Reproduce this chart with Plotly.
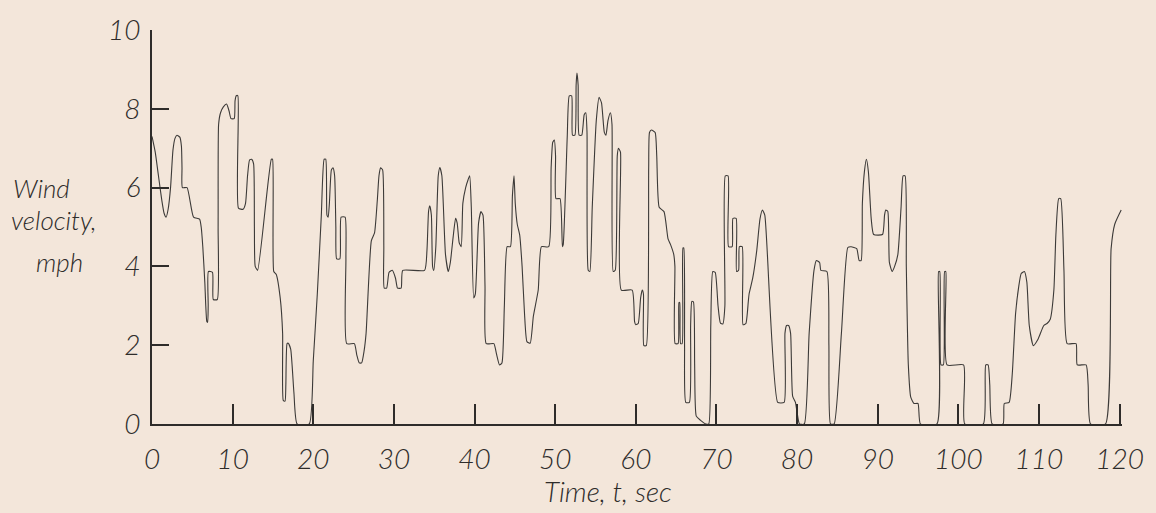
import plotly.graph_objects as go

# time (s) and wind velocity (mph)
t = [0.0, 0.4, 0.8, 1.2, 1.5, 1.75, 2.0, 2.3, 2.6, 2.85, 3.1, 3.45, 3.65, 3.72, 3.77, 4.35, 5.15, 5.9, 6.1, 6.3,
     6.55, 6.8, 6.9, 6.97, 7.0, 7.5, 7.6, 8.1, 8.2, 8.26, 8.5, 8.85, 9.25, 9.55, 9.8, 10.2, 10.3, 10.45, 10.65, 10.72,
     11.3, 11.6, 11.85, 12.1, 12.35, 12.6, 12.7, 12.8, 13.1, 14.8, 14.95, 15.1, 15.4, 15.9, 16.2, 16.28, 16.5, 16.6, 16.75, 16.9,
     17.2, 17.6, 18.0, 19.5, 20.0, 20.5, 21.0, 21.35, 21.55, 21.7, 21.85, 22.0, 22.25, 22.45, 22.65, 22.8, 22.9, 23.3, 23.45, 23.95,
     24.05, 24.15, 25.1, 25.4, 25.7, 26.0, 26.3, 26.55, 27.2, 27.6, 27.95, 28.15, 28.35, 28.6, 28.75, 28.8, 29.1, 29.4, 29.8, 30.2,
     30.45, 30.9, 31.1, 33.8, 34.1, 34.3, 34.45, 34.65, 34.8, 34.95, 35.2, 35.5, 35.7, 35.95, 36.4, 36.75, 37.0, 37.35, 37.65, 37.85,
     38.1, 38.35, 38.55, 38.9, 39.2, 39.4, 39.6, 39.9, 40.1, 40.5, 40.8, 41.05, 41.3, 41.45, 42.4, 42.7, 43.1, 43.4, 43.7, 44.05,
     44.45, 44.7, 44.9, 45.05, 45.3, 45.6, 45.9, 46.2, 46.5, 46.9, 47.3, 47.9, 48.3, 49.2, 49.5, 49.7, 49.9, 50.05, 50.1, 50.6,
     50.9, 51.0, 51.5, 51.75, 52.05, 52.15, 52.45, 52.6, 52.7, 52.85, 52.97, 53.3, 53.6, 53.8, 53.95, 54.1, 54.3, 54.6, 55.1, 55.45,
     55.75, 56.1, 56.3, 56.55, 56.85, 57.05, 57.2, 57.45, 57.7, 57.85, 58.1, 58.2, 59.55, 59.85, 60.0, 60.3, 60.6, 60.8, 60.95, 61.0,
     61.3, 61.6, 61.7, 61.95, 62.4, 62.6, 62.9, 63.5, 64.0, 64.3, 64.7, 64.85, 64.88, 65.25, 65.35, 65.45, 65.55, 65.75, 65.85, 65.95,
     66.05, 66.2, 66.65, 66.8, 66.95, 67.15, 67.3, 67.5, 68.0, 68.7, 69.05, 69.3, 69.55, 69.85, 70.2, 70.5, 70.8, 71.05, 71.1, 71.45,
     71.5, 71.95, 72.05, 72.45, 72.5, 72.75, 72.85, 73.2, 73.3, 73.65, 73.95, 74.05, 74.5, 75.0, 75.4, 75.7, 76.0, 77.6, 78.4, 78.5,
     78.7, 78.95, 79.2, 79.45, 79.8, 80.0, 80.3, 80.9, 81.5, 82.1, 82.4, 82.8, 82.95, 83.7, 83.95, 84.15, 84.6, 85.5, 86.3, 86.7,
     87.4, 87.7, 87.95, 88.1, 88.35, 88.6, 88.85, 89.2, 89.5, 90.6, 90.85, 91.0, 91.25, 91.45, 91.8, 92.1, 92.5, 92.9, 93.15, 93.4,
     93.55, 93.8, 94.1, 94.5, 95.0, 95.3, 97.35, 97.55, 97.7, 97.85, 98.15, 98.3, 98.45, 98.6, 100.65, 100.8, 103.1, 103.4, 103.7, 103.9,
     104.2, 105.55, 105.7, 106.3, 106.7, 107.1, 107.5, 107.8, 108.2, 108.5, 108.8, 109.3, 109.9, 110.6, 111.0, 111.4, 111.85, 112.1, 112.45, 112.7,
     113.1, 113.5, 114.6, 114.75, 115.85, 116.1, 116.4, 118.25, 118.95, 119.4, 120.2]

v = [7.3, 6.9, 6.3, 5.7, 5.35, 5.25, 5.45, 6.0, 6.95, 7.25, 7.33, 7.28, 7.05, 6.5, 6.0, 6.0, 5.25, 5.2, 5.0, 4.5,
     3.6, 2.6, 2.58, 3.0, 3.87, 3.85, 3.16, 3.16, 5.0, 7.6, 7.9, 8.05, 8.12, 7.95, 7.75, 7.75, 8.2, 8.33, 8.33, 5.48,
     5.45, 5.6, 6.3, 6.7, 6.72, 6.6, 5.0, 4.0, 3.9, 6.72, 6.72, 3.87, 3.8, 3.2, 2.3, 0.6, 0.58, 1.0, 2.04, 2.05,
     1.9, 0.8, 0.0, 0.0, 1.6, 3.3, 5.3, 6.72, 6.72, 5.3, 5.25, 5.6, 6.45, 6.5, 6.3, 5.0, 4.19, 4.19, 5.25, 5.25,
     4.2, 2.04, 2.04, 1.75, 1.55, 1.55, 1.85, 2.3, 4.65, 4.85, 5.7, 6.3, 6.5, 6.45, 4.5, 3.45, 3.45, 3.85, 3.9, 3.7,
     3.45, 3.45, 3.9, 3.9, 4.4, 5.4, 5.54, 5.3, 4.0, 3.9, 4.5, 6.3, 6.51, 6.3, 4.3, 3.87, 4.1, 4.75, 5.22, 5.1,
     4.6, 4.5, 5.6, 6.0, 6.2, 6.3, 5.5, 3.2, 3.3, 5.1, 5.39, 5.3, 3.5, 2.04, 2.04, 1.8, 1.5, 1.55, 3.0, 4.5,
     4.5, 5.8, 6.3, 5.6, 5.07, 4.8, 4.0, 2.8, 2.09, 2.05, 2.74, 3.4, 4.5, 4.5, 6.5, 7.15, 7.21, 6.8, 5.72, 5.72,
     4.5, 4.55, 7.3, 8.33, 8.33, 7.33, 7.33, 8.6, 8.91, 8.6, 7.33, 7.33, 7.85, 7.9, 7.4, 3.9, 3.87, 5.5, 7.7, 8.29,
     8.15, 7.4, 7.33, 7.7, 7.9, 7.6, 3.87, 3.9, 6.8, 7.0, 6.9, 3.4, 3.4, 2.6, 2.52, 2.55, 3.2, 3.4, 3.3, 1.99,
     1.99, 6.5, 7.4, 7.46, 7.4, 6.8, 5.5, 5.39, 4.7, 4.56, 4.31, 4.0, 2.04, 2.04, 3.08, 3.08, 2.04, 2.04, 4.47, 4.47,
     2.0, 0.55, 0.55, 2.5, 3.11, 3.1, 1.5, 0.2, 0.1, 0.0, 0.0, 2.5, 3.87, 3.85, 3.0, 2.56, 2.54, 3.0, 6.3, 6.3,
     4.5, 4.5, 5.22, 5.22, 3.87, 3.9, 4.5, 4.5, 2.52, 2.55, 3.1, 3.3, 3.7, 4.4, 5.2, 5.43, 5.3, 0.55, 0.55, 2.3,
     2.5, 2.5, 2.3, 0.71, 0.55, 0.3, 0.0, 0.0, 2.3, 3.9, 4.15, 4.1, 3.9, 3.87, 2.0, 0.0, 0.0, 2.3, 4.48, 4.5,
     4.45, 4.15, 4.15, 5.6, 6.4, 6.72, 6.4, 5.2, 4.81, 4.81, 5.3, 5.43, 5.4, 4.1, 3.87, 4.0, 4.3, 5.5, 6.3, 6.3,
     4.0, 1.5, 0.68, 0.52, 0.52, 0.0, 0.0, 3.87, 3.87, 1.5, 1.5, 3.87, 3.87, 1.5, 1.5, 0.0, 0.0, 1.5, 1.5, 1.0,
     0.0, 0.0, 0.52, 0.55, 1.3, 2.8, 3.5, 3.82, 3.87, 3.6, 2.5, 1.99, 2.16, 2.5, 2.55, 2.66, 3.4, 4.8, 5.72, 5.72,
     3.9, 2.04, 2.04, 1.5, 1.5, 1.0, 0.0, 0.0, 4.45, 5.07, 5.43]

x_ticks = [0, 10, 20, 30, 40, 50, 60, 70, 80, 90, 100, 110, 120]
x_labels = ["0", "10", "20", "30", "40", "50", "60", "70", "80", "90", "100", "110", "120"]
y_ticks = [0, 2, 4, 6, 8, 10]
y_labels = ["0", "2", "4", "6", "8", "10"]

BG = "#f3e6da"
INK = "#2e2c2a"
FONT = "Lato, 'Open Sans', 'DejaVu Sans', sans-serif"

W, H = 1156, 513
ML, MR, MT, MB = 152, 26, 21, 89
pw = W - ML - MR
ph = H - MT - MB

fig = go.Figure()
fig.add_trace(go.Scatter(x=t, y=v, mode="lines",
                         line=dict(color="#3c3a38", width=1.1, shape="spline", smoothing=0.5),
                         hoverinfo="skip", showlegend=False))

tickfont = dict(family=FONT, size=28, color=INK, style="italic", weight=300)

fig.update_layout(
    width=W, height=H,
    margin=dict(l=ML, r=MR, t=MT, b=MB),
    paper_bgcolor=BG, plot_bgcolor=BG,
    font=dict(family=FONT, color=INK),
    xaxis=dict(range=[0, 120.3], tickvals=x_ticks, ticktext=x_labels,
               showgrid=False, zeroline=False, showline=True,
               linecolor=INK, linewidth=1.6, ticks="inside", ticklen=20,
               tickwidth=1.6, tickcolor=INK, tickfont=tickfont,
               ticklabelstandoff=10),
    yaxis=dict(range=[0, 10], tickvals=y_ticks, ticktext=y_labels,
               showgrid=False, zeroline=False, showline=True,
               linecolor=INK, linewidth=1.6, ticks="inside", ticklen=17,
               tickwidth=1.6, tickcolor=INK, tickfont=tickfont,
               ticklabelstandoff=4),
)

def px2paper(px, py):
    return (px - ML) / pw, (H - MB - py) / ph

titlefont = dict(family=FONT, size=26, color=INK, style="italic", weight=300)
for text, px, py in [("Wind", 10, 183), ("velocity,", 8, 215), ("mph", 33, 258)]:
    xp, yp = px2paper(px, py)
    fig.add_annotation(text=text, x=xp, y=yp, xref="paper", yref="paper",
                       xanchor="left", yanchor="middle", showarrow=False,
                       font=titlefont)

xp, yp = px2paper(612, 493)
fig.add_annotation(text="Time, <i>t</i>, sec", x=xp, y=yp, xref="paper", yref="paper",
                   xanchor="center", yanchor="middle", showarrow=False,
                   font=dict(family=FONT, size=28, color=INK, style="italic", weight=300))

fig.write_html("out.html", config={"displayModeBar": False},
               post_script="document.body.style.margin='0';document.body.style.overflow='hidden';")
